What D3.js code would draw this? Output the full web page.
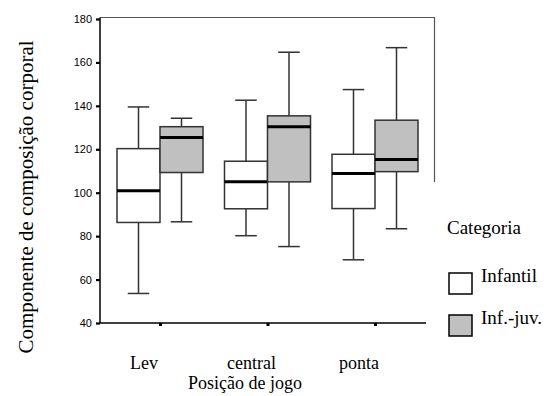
<!DOCTYPE html>
<html>
<head>
<meta charset="utf-8">
<script src="https://cdn.jsdelivr.net/npm/d3@7"></script>
<style>
  body { margin: 0; background: #fff; }
  svg text { fill: #000; }
  .tick text { font-family: "Liberation Sans", Arial, sans-serif; font-size: 11px; }
</style>
</head>
<body>
<svg id="chart" width="555" height="396"></svg>
<script>
// positions on x axis
const categories = ['Lev', 'central', 'ponta'];
const series = ['Infantil', 'Inf.-juv.'];
const yTicks = [40, 60, 80, 100, 120, 140, 160, 180];

// box stats per category, one array per series: [min, q1, median, q3, max]
const infantil = [
  [53.6, 86.3, 100.9, 120.3, 139.5],
  [80.2, 92.6, 105.1, 114.5, 142.6],
  [69.1, 92.7, 108.8, 117.7, 147.5]
];
const infJuv = [
  [86.6, 109.3, 125.4, 130.4, 134.3],
  [75.2, 105.0, 130.4, 135.4, 164.7],
  [83.4, 109.7, 115.3, 133.4, 166.8]
];

const fills = ['#ffffff', '#c0c0c0'];
const serif = '"Liberation Serif", "DejaVu Serif", serif';

const svg = d3.select('#chart');

const x = d3.scalePoint().domain(categories).range([160, 375]);
const inner = d3.scaleBand().domain(series).range([-43, 43]);
const y = d3.scaleLinear().domain([40, 180]).range([323, 19]);

const boxes = [];
categories.forEach((c, i) => {
  boxes.push({ cat: c, s: series[0], v: infantil[i] });
  boxes.push({ cat: c, s: series[1], v: infJuv[i] });
});

// frame top + right
svg.append('line').attr('x1', 100).attr('x2', 435).attr('y1', 17.5).attr('y2', 17.5)
  .attr('stroke', '#555').attr('stroke-width', 1.2);
svg.append('line').attr('x1', 434.5).attr('x2', 434.5).attr('y1', 17.5).attr('y2', 182)
  .attr('stroke', '#555').attr('stroke-width', 1.2);

const g = svg.append('g');
const bw = inner.bandwidth();

const box = g.selectAll('.box').data(boxes).enter().append('g')
  .attr('class', 'box')
  .attr('transform', d => 'translate(' + (x(d.cat) + inner(d.s)) + ',0)');

// whiskers
box.append('line')
  .attr('x1', bw / 2).attr('x2', bw / 2)
  .attr('y1', d => y(d.v[0])).attr('y2', d => y(d.v[1]))
  .attr('stroke', '#333').attr('stroke-width', 1.5);
box.append('line')
  .attr('x1', bw / 2).attr('x2', bw / 2)
  .attr('y1', d => y(d.v[3])).attr('y2', d => y(d.v[4]))
  .attr('stroke', '#333').attr('stroke-width', 1.5);
[0, 4].forEach(k => {
  box.append('line')
    .attr('x1', bw / 4).attr('x2', bw * 3 / 4)
    .attr('y1', d => y(d.v[k])).attr('y2', d => y(d.v[k]))
    .attr('stroke', '#333').attr('stroke-width', 1.5);
});

box.append('rect')
  .attr('x', 0).attr('width', bw)
  .attr('y', d => y(d.v[3]))
  .attr('height', d => y(d.v[1]) - y(d.v[3]))
  .attr('fill', d => fills[series.indexOf(d.s)])
  .attr('stroke', '#333').attr('stroke-width', 1.5);

box.append('line')
  .attr('x1', 0).attr('x2', bw)
  .attr('y1', d => y(d.v[2])).attr('y2', d => y(d.v[2]))
  .attr('stroke', '#000').attr('stroke-width', 3);

// y axis
const yAxis = svg.append('g')
  .attr('transform', 'translate(100,0)')
  .call(d3.axisLeft(y).tickValues(yTicks).tickSize(4).tickPadding(4));
yAxis.select('.domain').attr('d', 'M0,17.5V' + y(40)).attr('stroke', '#000').attr('stroke-width', 1.5);
yAxis.selectAll('.tick line').attr('stroke-width', 2.2);

// x axis
const xAxis = svg.append('g')
  .attr('transform', 'translate(0,' + y(40) + ')')
  .call(d3.axisBottom(x).tickSize(3).tickFormat(''));
xAxis.select('.domain').attr('d', 'M100,0H426').attr('stroke', '#000').attr('stroke-width', 1.5);
xAxis.selectAll('.tick line').attr('stroke-width', 3);

svg.append('g').selectAll('text').data(categories).enter().append('text')
  .attr('x', d => x(d) - 16)
  .attr('y', 369)
  .attr('text-anchor', 'middle')
  .style('font-family', serif)
  .style('font-size', '18px')
  .text(d => d);

svg.append('text')
  .attr('x', 245).attr('y', 389)
  .attr('text-anchor', 'middle')
  .style('font-family', serif)
  .style('font-size', '18px')
  .text('Posição de jogo');

svg.append('text')
  .attr('transform', 'translate(33,197) rotate(-90)')
  .attr('text-anchor', 'middle')
  .style('font-family', serif)
  .style('font-size', '21px')
  .text('Componente de composição corporal');

// legend
svg.append('text')
  .attr('x', 447).attr('y', 234)
  .style('font-family', serif)
  .style('font-size', '19px')
  .text('Categoria');

const leg = svg.append('g').selectAll('g').data(series).enter().append('g')
  .attr('transform', (d, i) => 'translate(449,' + (273 + i * 42) + ')');
leg.append('rect')
  .attr('width', 23).attr('height', 21)
  .attr('fill', (d, i) => fills[i])
  .attr('stroke', '#000').attr('stroke-width', 1.5);
leg.append('text')
  .attr('x', 32).attr('y', 9)
  .style('font-family', serif)
  .style('font-size', '19px')
  .text(d => d);
</script>
</body>
</html>
